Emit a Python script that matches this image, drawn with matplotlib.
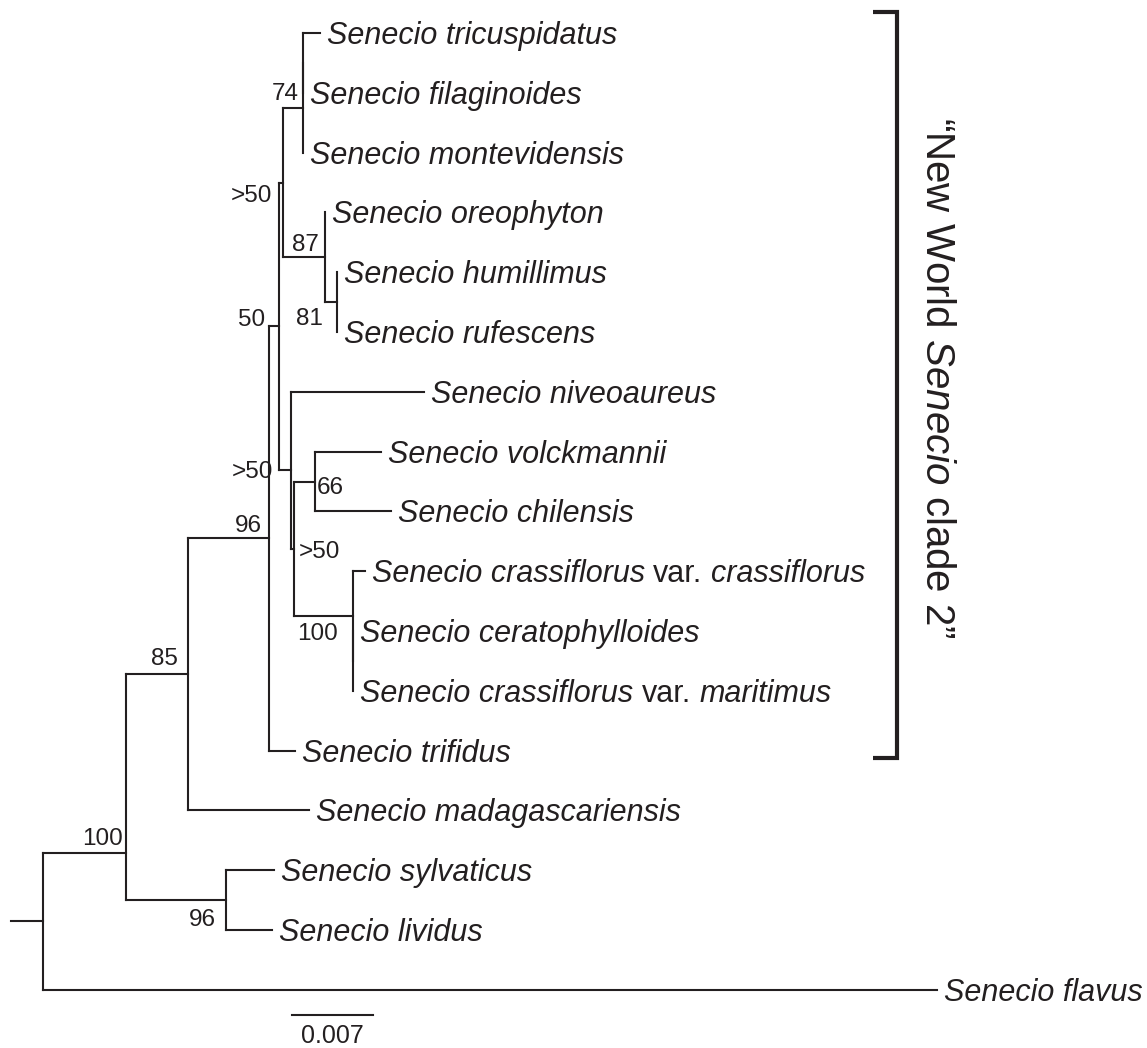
import matplotlib
matplotlib.use('Agg')
import matplotlib.pyplot as plt
from matplotlib.collections import LineCollection

plt.rcParams['font.family'] = ['Liberation Sans', 'DejaVu Sans']
plt.rcParams['mathtext.fontset'] = 'custom'
plt.rcParams['mathtext.rm'] = 'Liberation Sans'
plt.rcParams['mathtext.it'] = 'Liberation Sans:italic'

INK = '#231f20'

# tree as a parent table, preorder (top to bottom), branch lengths in subst./site
node = ['root', 'n100', 'n85', 'n96', 'n50', 'n50a', 'n74', 'n74i',
        'Senecio tricuspidatus', 'Senecio filaginoides', 'Senecio montevidensis',
        'n87', 'Senecio oreophyton', 'n81', 'Senecio humillimus', 'Senecio rufescens',
        'n50b', 'Senecio niveoaureus', 'n50c', 'n66',
        'Senecio volckmannii', 'Senecio chilensis', 'n100c',
        'Senecio crassiflorus var. crassiflorus', 'n100ci',
        'Senecio ceratophylloides', 'Senecio crassiflorus var. maritimus',
        'Senecio trifidus', 'Senecio madagascariensis', 'n96b',
        'Senecio sylvaticus', 'Senecio lividus', 'Senecio flavus']
parent = [None, 'root', 'n100', 'n85', 'n96', 'n50', 'n50a', 'n74',
          'n74i', 'n74i', 'n74',
          'n50a', 'n87', 'n87', 'n81', 'n81',
          'n50', 'n50b', 'n50b', 'n50c',
          'n66', 'n66', 'n50c',
          'n100c', 'n100c',
          'n100ci', 'n100ci',
          'n96', 'n85', 'n100',
          'n96b', 'n96b', 'root']
blen = [0.0, 0.0072, 0.0053, 0.0070, 0.0009, 0.0003, 0.0018, 0.0,
        0.0014, 0.0, 0.0,
        0.0037, 0.0, 0.0010, 0.0, 0.0,
        0.0010, 0.0115, 0.0003, 0.0018,
        0.0057, 0.0066, 0.0051,
        0.0010, 0.0,
        0.0, 0.0,
        0.0023, 0.0105, 0.0086,
        0.0042, 0.0040, 0.0773]

# bootstrap support
support_node = ['n74', 'n50a', 'n87', 'n81', 'n50', 'n50b', 'n66', 'n50c',
                'n100c', 'n96', 'n85', 'n100', 'n96b']
support_val = ['74', '>50', '87', '81', '50', '>50', '66', '>50',
               '100', '96', '85', '100', '96']

clade_first = 'Senecio tricuspidatus'
clade_last = 'Senecio trifidus'
clade_name = '\u201cNew World $\\mathit{Senecio}$ clade 2\u201d'
scale_len = 0.007
root_stub = 0.0028

# label placement (pixel offsets from node, ha) and layout constants
label_pos = {'n74': (-5, 8, 'right'), 'n50a': (-10, -19, 'right'),
             'n87': (-6, 6, 'right'), 'n81': (-14, -23, 'right'),
             'n50': (-14, 0, 'right'), 'n50b': (-18, -8, 'right'),
             'n66': (2, -12, 'left'), 'n50c': (5, -9, 'left'),
             'n100c': (-15, -24, 'right'), 'n96': (-7, 6, 'right'),
             'n85': (-10, 9, 'right'), 'n100': (-3, 8, 'right'),
             'n96b': (-10, -26, 'right')}
node_weight = {'n100': 0.79}
W, H = 1147, 1048
ppu = 81 / scale_len
root_px, top_px, step_px = 43, 33, 59.8
tip_fs = 22
space_px = 8.5

children = {n: [] for n in node}
for n, p in zip(node, parent):
    if p is not None:
        children[p].append(n)

depth = {}
for n, p, b in zip(node, parent, blen):
    depth[n] = 0.0 if p is None else depth[p] + b

ypos = {}
leaf_i = 0
for n in node:
    if not children[n]:
        ypos[n] = leaf_i
        leaf_i += 1
for n in reversed(node):
    if children[n]:
        y0, y1 = ypos[children[n][0]], ypos[children[n][-1]]
        ypos[n] = y0 + node_weight.get(n, 0.5) * (y1 - y0)

fig = plt.figure(figsize=(W / 100, H / 100), dpi=100)
ax = fig.add_axes([0, 0, 1, 1])
ax.set_xlim(-root_px / ppu, (W - root_px) / ppu)
ax.set_ylim((H - top_px) / step_px, -top_px / step_px)
ax.axis('off')

segs = []
for n, p, b in zip(node, parent, blen):
    if p is not None and b > 0:
        segs.append([(depth[p], ypos[n]), (depth[n], ypos[n])])
    if children[n]:
        segs.append([(depth[n], ypos[children[n][0]]),
                     (depth[n], ypos[children[n][-1]])])
segs.append([(-root_stub, ypos['root']), (0, ypos['root'])])
ax.add_collection(LineCollection(segs, colors=INK, linewidths=1.5,
                                 capstyle='projecting'))

# tip names: species italic, "var." upright, pieces chained left to right
for n in node:
    if children[n]:
        continue
    if ' var. ' in n:
        sp, var = n.split(' var. ')
        pieces = [(sp, 'italic'), ('var.', 'normal'), (var, 'italic')]
    else:
        pieces = [(n, 'italic')]
    prev = ax.annotate(pieces[0][0], (depth[n], ypos[n]), xytext=(7, -11),
                       textcoords='offset pixels', ha='left', va='baseline',
                       fontsize=tip_fs, style=pieces[0][1], color=INK)
    for txt, st in pieces[1:]:
        prev = ax.annotate(txt, (1, 0), xycoords=prev, xytext=(space_px, 0),
                           textcoords='offset pixels', ha='left', va='bottom',
                           fontsize=tip_fs, style=st, color=INK)

# support values
for n, v in zip(support_node, support_val):
    dx, dy, ha = label_pos[n]
    ax.annotate(v, (depth[n], ypos[n]), xytext=(dx, dy),
                textcoords='offset pixels', ha=ha, va='baseline',
                fontsize=17.5, color=INK)

# scale bar
sx = (292 - root_px) / ppu
sy = ypos['Senecio flavus'] + 0.42
ax.plot([sx, sx + scale_len], [sy, sy], color=INK, lw=1.5)
ax.annotate(f'{scale_len:.3f}', (sx + scale_len / 2, sy), xytext=(0, -28),
            textcoords='offset pixels', ha='center', va='baseline',
            fontsize=18, color=INK)

# clade bracket
bx = (897 - root_px) / ppu
btick = (873 - root_px) / ppu
b_top = ypos[clade_first] - 0.35
b_bot = ypos[clade_last] + 0.12
ax.plot([btick, bx, bx, btick], [b_top, b_top, b_bot, b_bot], color=INK,
        lw=3, solid_joinstyle='miter', solid_capstyle='butt')
ax.text((937 - root_px) / ppu, 5.77, clade_name, rotation=-90,
        ha='center', va='center', fontsize=29, color=INK)

fig.savefig('out.png', dpi=100, facecolor='white')
